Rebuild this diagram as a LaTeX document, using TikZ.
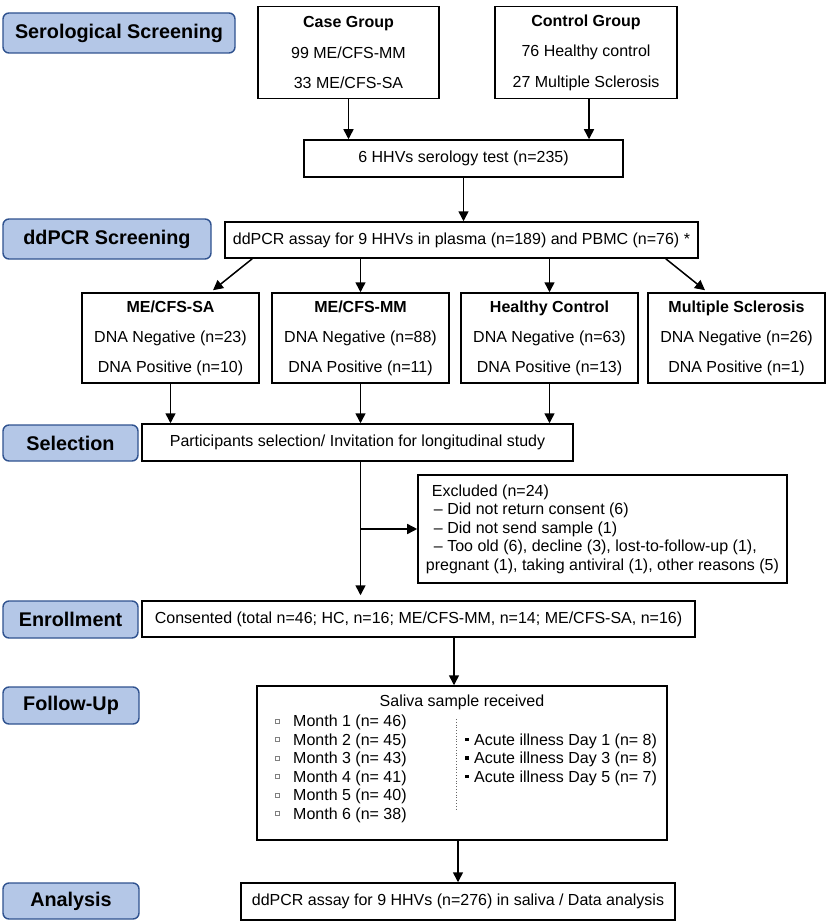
\documentclass[tikz,border=0pt]{standalone}
\usepackage{fontspec}
\setmainfont{Liberation Sans}
\usetikzlibrary{arrows.meta,calc}
\definecolor{labfill}{RGB}{180,199,231}
\definecolor{labdraw}{RGB}{47,82,143}
\begin{document}
\begin{tikzpicture}[x=1pt,y=-1pt,
  lab/.style={draw=labdraw, fill=labfill, line width=1.4pt, rounded corners=6pt,
    font=\fontsize{19.8}{22}\selectfont\bfseries, inner sep=0pt},
  box/.style={draw, line width=1.5pt, inner sep=0pt, align=center,
    font=\fontsize{16}{19}\selectfont},
  arr/.style={line width=1.5pt, -{Triangle[width=10pt,length=10pt]}},
  txt/.style={inner sep=0pt, font=\fontsize{16}{19}\selectfont},
  hb/.style={draw=gray, line width=0.7pt, minimum size=4pt, inner sep=0pt},
  fb/.style={fill=black, minimum size=3.5pt, inner sep=0pt}]
\useasboundingbox (0,0) rectangle (829,923);

% stage labels
\node[lab, minimum width=232pt, minimum height=40pt] (l1) at (119,33) {Serological Screening};
\node[lab, minimum width=208pt, minimum height=40pt] (l2) at (107,239) {ddPCR Screening};
\node[lab, minimum width=135pt, minimum height=36pt] (l3) at (70.5,443) {Selection};
\node[lab, minimum width=135pt, minimum height=37pt] (l4) at (70.5,619.5) {Enrollment};
\node[lab, minimum width=136pt, minimum height=37pt] (l5) at (71,705.5) {Follow-Up};
\node[lab, minimum width=136pt, minimum height=36pt] (l6) at (71,901) {Analysis};

% boxes
\node[box, minimum width=181pt, minimum height=92pt, font=\fontsize{16}{30.5}\selectfont] (case) at (348.5,52.5)
  {\textbf{Case Group}\\99 ME/CFS-MM\\33 ME/CFS-SA};
\node[box, minimum width=182pt, minimum height=92pt, font=\fontsize{16}{30.5}\selectfont] (ctrl) at (586,52.5)
  {\textbf{Control Group}\\76 Healthy control\\27 Multiple Sclerosis};
\node[box, minimum width=319pt, minimum height=37pt] (sero) at (463.5,158.5) {6 HHVs serology test (n=235)};
\node[box, minimum width=473pt, minimum height=36pt] (dd) at (461.5,240)
  {ddPCR assay for 9 HHVs in plasma (n=189) and PBMC (n=76) *};

\node[box, minimum width=177pt, minimum height=90pt, font=\fontsize{16}{30}\selectfont] (sa) at (170.5,338)
  {\textbf{ME/CFS-SA}\\DNA Negative (n=23)\\DNA Positive (n=10)};
\node[box, minimum width=177pt, minimum height=90pt, font=\fontsize{16}{30}\selectfont] (mm) at (360.5,338)
  {\textbf{ME/CFS-MM}\\DNA Negative (n=88)\\DNA Positive (n=11)};
\node[box, minimum width=177pt, minimum height=90pt, font=\fontsize{16}{30}\selectfont] (hc) at (549.5,338)
  {\textbf{Healthy Control}\\DNA Negative (n=63)\\DNA Positive (n=13)};
\node[box, minimum width=177pt, minimum height=90pt, font=\fontsize{16}{30}\selectfont] (ms) at (736.5,338)
  {\textbf{Multiple Sclerosis}\\DNA Negative (n=26)\\DNA Positive (n=1)};

\node[box, minimum width=431pt, minimum height=37pt] (sel) at (357.5,442.5)
  {Participants selection/ Invitation for longitudinal study};
\node[box, align=left, inner xsep=8pt, minimum width=369pt, minimum height=108pt,
  font=\fontsize{16}{18.5}\selectfont] (exc) at (602.5,529)
  {\hspace*{6pt}Excluded (n=24)\\
   \hspace*{8pt}– Did not return consent (6)\\
   \hspace*{8pt}– Did not send sample (1)\\
   \hspace*{8pt}– Too old (6), decline (3), lost-to-follow-up (1),\\
   pregnant (1), taking antiviral (1), other reasons (5)};
\node[box, minimum width=553pt, minimum height=36pt] (enr) at (418.5,619)
  {Consented (total n=46; HC, n=16; ME/CFS-MM, n=14; ME/CFS-SA, n=16)};

\node[box, minimum width=410pt, minimum height=154pt] (sal) at (462,763) {};
\node[txt] (saltitle) at (462,702) {Saliva sample received};
\node[hb] (b1) at (277,721) {};
\node[hb] (b2) at (277,739.5) {};
\node[hb] (b3) at (277,758) {};
\node[hb] (b4) at (277,776.5) {};
\node[hb] (b5) at (277,795) {};
\node[hb] (b6) at (277,813.5) {};
\node[txt, anchor=base west] (m1) at (293,726.5) {Month 1 (n= 46)};
\node[txt, anchor=base west] (m2) at (293,745) {Month 2 (n= 45)};
\node[txt, anchor=base west] (m3) at (293,763.5) {Month 3 (n= 43)};
\node[txt, anchor=base west] (m4) at (293,782) {Month 4 (n= 41)};
\node[txt, anchor=base west] (m5) at (293,800.5) {Month 5 (n= 40)};
\node[txt, anchor=base west] (m6) at (293,819) {Month 6 (n= 38)};
\coordinate (d1) at (456,719);
\coordinate (d2) at (456,809);
\draw[gray!80!black, dotted, line width=0.8pt] (d1) -- (d2);
\node[fb] (c1) at (467,739.5) {};
\node[fb] (c2) at (467,758) {};
\node[fb] (c3) at (467,776.5) {};
\node[txt, anchor=base west] (a1) at (474,745) {Acute illness Day 1 (n= 8)};
\node[txt, anchor=base west] (a2) at (474,763.5) {Acute illness Day 3 (n= 8)};
\node[txt, anchor=base west] (a3) at (474,782) {Acute illness Day 5 (n= 7)};

\node[box, minimum width=434pt, minimum height=37pt] (ana) at (458,901.5)
  {ddPCR assay for 9 HHVs (n=276) in saliva / Data analysis};

% connectors
\draw[arr] (case.south) -- (case.south |- sero.north);
\coordinate (ctrlout) at ([xshift=3pt]ctrl.south);
\draw[arr] (ctrlout) -- (ctrlout |- sero.north);
\draw[arr] (sero.south) -- (sero.south |- dd.north);
\draw[arr] ([xshift=28pt]dd.south west) -- ([xshift=42.5pt,yshift=2pt]sa.north);
\draw[arr] (dd.south -| mm.north) -- (mm.north);
\draw[arr] (dd.south -| hc.north) -- (hc.north);
\draw[arr] ([xshift=-33pt]dd.south east) -- ([xshift=-31.5pt,yshift=2pt]ms.north);
\draw[arr] (sa.south) -- (sa.south |- sel.north);
\draw[arr] (mm.south) -- (mm.south |- sel.north);
\draw[arr] (hc.south) -- (hc.south |- sel.north);
\coordinate (selout) at (sel.south -| mm.south);
\draw[arr, shorten >=5pt] (selout) -- (selout |- enr.north);
\draw[arr] (selout |- exc.west) -- (exc.west);
\coordinate (salin) at ([xshift=-8pt]sal.north);
\draw[arr] (salin |- enr.south) -- (salin);
\draw[arr] (sal.south -| ana.north) -- (ana.north);
\end{tikzpicture}
\end{document}
